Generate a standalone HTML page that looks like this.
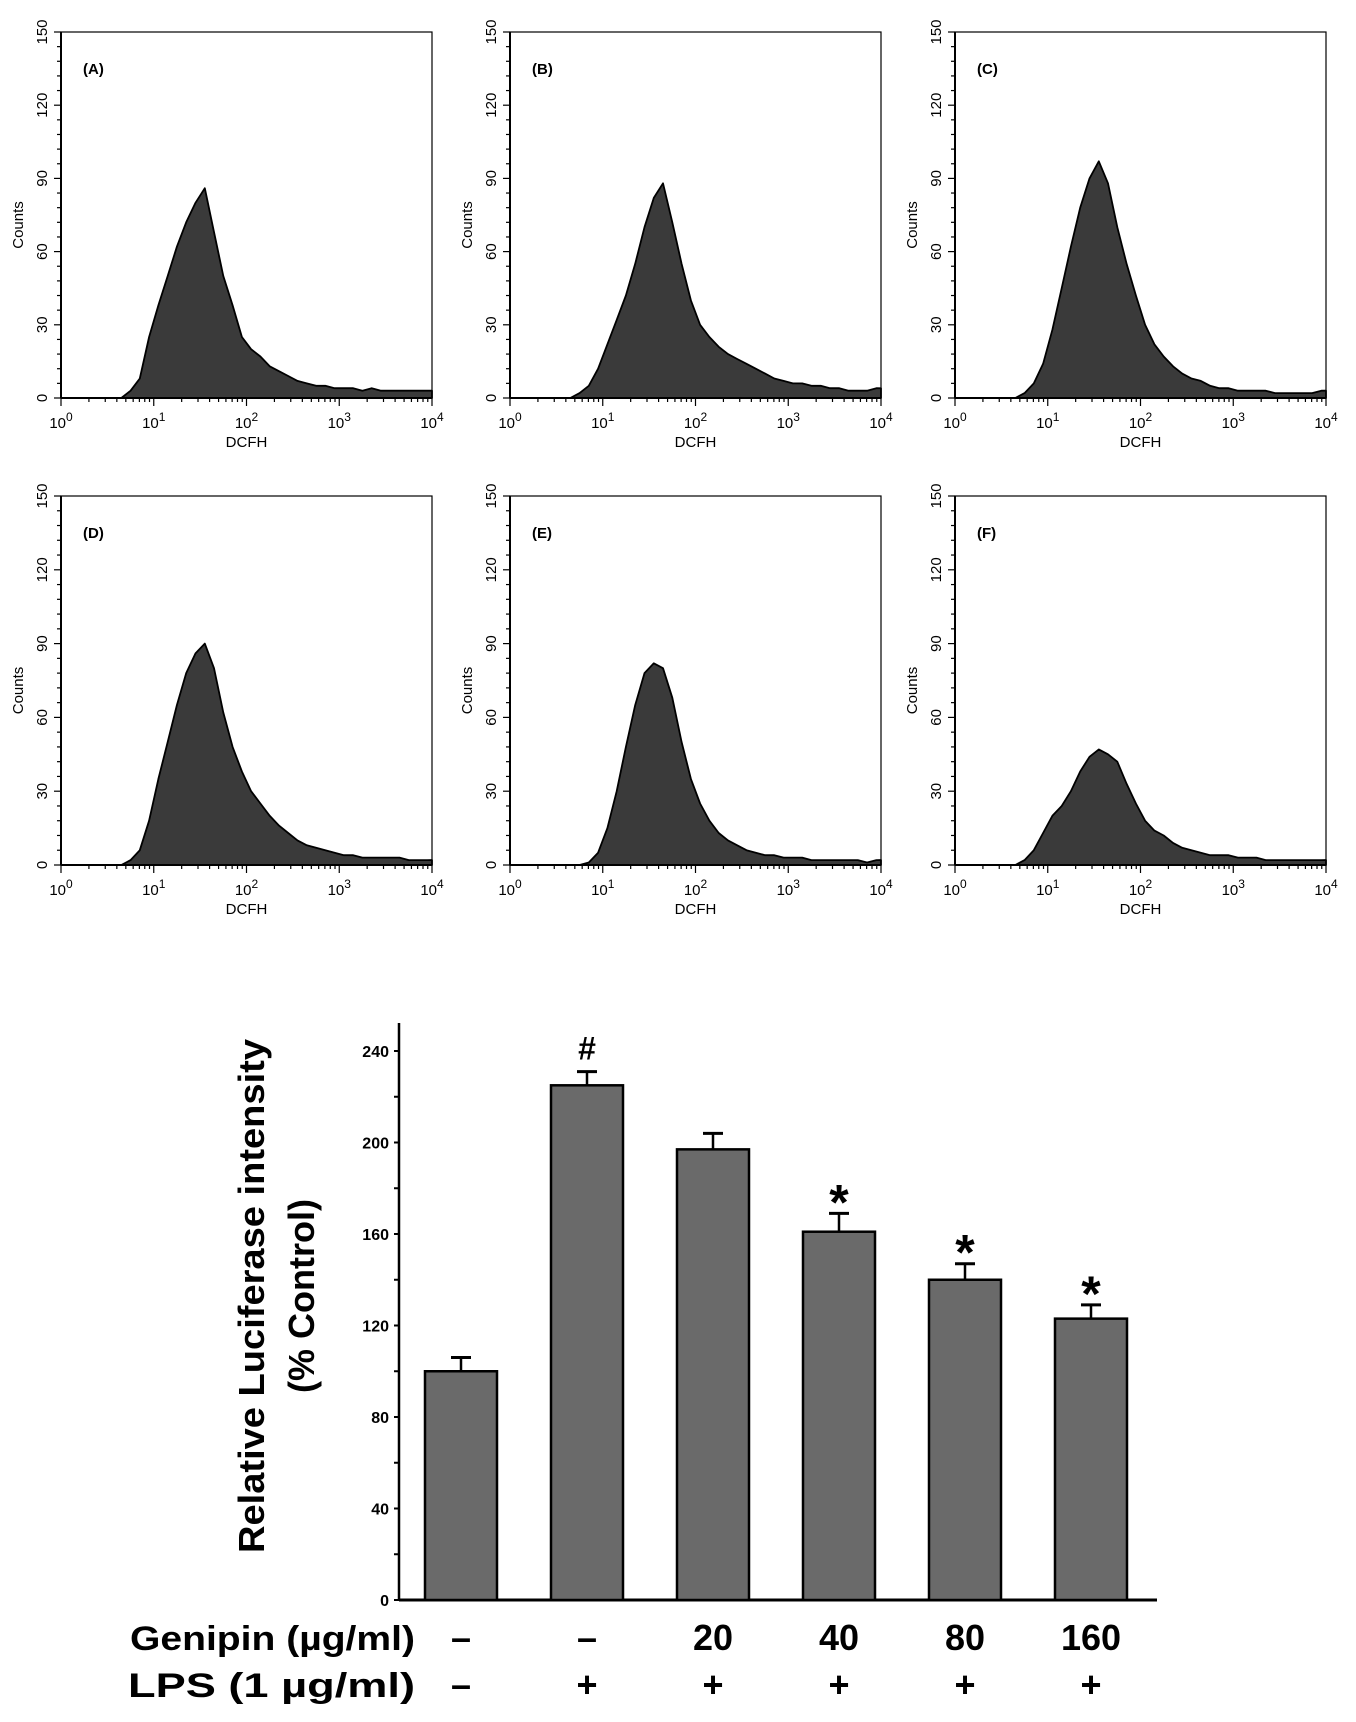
<!DOCTYPE html>
<html><head><meta charset="utf-8"><style>
html,body{margin:0;padding:0;background:#fff;}
svg{display:block;font-family:"Liberation Sans",sans-serif;}
</style></head><body>
<svg id="fig" width="1356" height="1722" viewBox="0 0 1356 1722" xmlns="http://www.w3.org/2000/svg"></svg>
<script>
// ---- histogram data (counts per log10 bin, bin width 0.1 from 10^0 to 10^4) ----
const histLabels = ["(A)","(B)","(C)","(D)","(E)","(F)"];
const histA = [0,0,0,0,0,0,0,3,8,25,38,50,62,72,80,86,68,50,38,25,20,17,13,11,9,7,6,5,5,4,4,4,3,4,3,3,3,3,3,3];
const histB = [0,0,0,0,0,0,0,2,5,12,22,32,42,55,70,82,88,72,55,40,30,25,21,18,16,14,12,10,8,7,6,6,5,5,4,4,3,3,3,4];
const histC = [0,0,0,0,0,0,0,2,6,14,28,45,62,78,90,97,88,70,55,42,30,22,17,13,10,8,7,5,4,4,3,3,3,3,2,2,2,2,2,3];
const histD = [0,0,0,0,0,0,0,2,6,18,35,50,65,78,86,90,80,62,48,38,30,25,20,16,13,10,8,7,6,5,4,4,3,3,3,3,3,2,2,2];
const histE = [0,0,0,0,0,0,0,0,1,5,15,30,48,65,78,82,80,68,50,35,25,18,13,10,8,6,5,4,4,3,3,3,2,2,2,2,2,2,1,2];
const histF = [0,0,0,0,0,0,0,2,6,13,20,24,30,38,44,47,45,42,33,25,18,14,12,9,7,6,5,4,4,4,3,3,3,2,2,2,2,2,2,2];
const histSeries = [histA,histB,histC,histD,histE,histF];
const countTicks = [0,30,60,90,120,150];
const decadeTicks = [0,1,2,3,4];

// ---- bar chart data ----
const barCategories = ["control","LPS","G20","G40","G80","G160"];
const barValues = [100,225,197,161,140,123];
const barErrors = [6,6,7,8,7,6];
const barMarks = ["","#","","*","*","*"];
const genipinLabels = ["\u2013","\u2013","20","40","80","160"];
const lpsLabels = ["\u2013","+","+","+","+","+"];
const barTicks = [0,40,80,120,160,200,240];

const NS="http://www.w3.org/2000/svg";
const svg=document.getElementById('fig');
function mk(tag,attrs,parent,text){const e=document.createElementNS(NS,tag);for(const k in attrs)e.setAttribute(k,attrs[k]);if(text!==undefined)e.textContent=text;(parent||svg).appendChild(e);return e;}

const cols=[61,510,955], rows=[[32,398],[496,865]], W=371;
histSeries.forEach((data,i)=>{
  const x0=cols[i%3], top=rows[Math.floor(i/3)][0], y0=rows[Math.floor(i/3)][1];
  const g=mk('g',{});
  
  
  const xs=d=>x0+d/4*W, ys=c=>y0-c/150*(y0-top);
  let d='M'+xs(0)+','+ys(0);
  data.forEach((v,k)=>{d+=' L'+xs(k*0.1+0.05).toFixed(1)+','+ys(v).toFixed(1);});
  d+=' L'+xs(4)+','+ys(data[data.length-1])+' L'+xs(4)+','+ys(0)+' Z';
  const p=mk('path',{d:d,fill:'#3a3a3a',stroke:'#000','stroke-width':1.8,'stroke-linejoin':'round'},g);
  
  
  const box=mk('rect',{x:x0,y:top,width:W,height:y0-top,fill:'none',stroke:'#000','stroke-width':1.2},g);
  
  
  mk('line',{x1:x0,y1:y0,x2:x0+W,y2:y0,stroke:'#000','stroke-width':2},g);
  mk('line',{x1:x0,y1:top,x2:x0,y2:y0,stroke:'#000','stroke-width':2},g);
  for(let c=0;c<=150;c+=6){const big=c%30===0;mk('line',{x1:x0-(big?7:4),y1:ys(c),x2:x0,y2:ys(c),stroke:'#000','stroke-width':1.2},g);}
  countTicks.forEach(c=>{const t=mk('text',{x:x0-14,y:ys(c),'font-size':15,'text-anchor':'middle',transform:`rotate(-90 ${x0-14} ${ys(c)})`},g,String(c));
    });
  for(let dcd=0;dcd<4;dcd++){for(let m=1;m<=9;m++){const xx=xs(dcd+Math.log10(m));mk('line',{x1:xx,y1:y0,x2:xx,y2:y0+(m===1?8:4),stroke:'#000','stroke-width':1.2},g);}}
  mk('line',{x1:xs(4),y1:y0,x2:xs(4),y2:y0+8,stroke:'#000','stroke-width':1.2},g);
  decadeTicks.forEach(e=>{const t=mk('text',{x:xs(e),y:y0+30,'font-size':15,'text-anchor':'middle'},g);
    
    mk('tspan',{},t,'10');mk('tspan',{dy:-7,'font-size':12},t,String(e));});
  const xt=mk('text',{x:x0+W/2,y:y0+49,'font-size':15,'text-anchor':'middle'},g,'DCFH');
  
  const yt=mk('text',{x:x0-38,y:(top+y0)/2+10,'font-size':15,'text-anchor':'middle',transform:`rotate(-90 ${x0-38} ${(top+y0)/2+10})`},g,'Counts');
  
  const lb=mk('text',{x:x0+22,y:top+42,'font-size':15,'font-weight':'bold'},g,histLabels[i]);
  
});

// ---- bar chart ----
const bx0=399, bx1=1157, by0=1600, byTop=1023, pxU=(1600-1051)/240;
const yb=v=>by0-v*pxU;
const bc=k=>461+k*126;
const bg=mk('g',{});


mk('line',{x1:bx0,y1:byTop,x2:bx0,y2:by0,stroke:'#000','stroke-width':2.5},bg);
mk('line',{x1:bx0,y1:by0,x2:bx1,y2:by0,stroke:'#000','stroke-width':3},bg);
for(let v=0;v<=240;v+=20){mk('line',{x1:bx0-5,y1:yb(v),x2:bx0,y2:yb(v),stroke:'#000','stroke-width':2},bg);}
barTicks.forEach(v=>{const t=mk('text',{x:bx0-10,y:yb(v)+6,'font-size':16,'font-weight':'bold','text-anchor':'end'},bg,String(v));
  });
barValues.forEach((v,k)=>{
  const r=mk('rect',{x:bc(k)-36,y:yb(v),width:72,height:by0-yb(v),fill:'#6a6a6a',stroke:'#000','stroke-width':2.5},bg);
  
  const e=barErrors[k];
  mk('line',{x1:bc(k),y1:yb(v),x2:bc(k),y2:yb(v+e),stroke:'#000','stroke-width':2.5},bg);
  const cap=mk('line',{x1:bc(k)-10,y1:yb(v+e),x2:bc(k)+10,y2:yb(v+e),stroke:'#000','stroke-width':3},bg);
  
  if(barMarks[k]){const s=barMarks[k]==='*';
    const m=mk('text',{x:bc(k),y:yb(v+e)-(s?-6:12),'font-size':s?50:32,'font-weight':'bold','text-anchor':'middle'},bg,barMarks[k]);
    }
  const gl=mk('text',{x:bc(k),y:1650,'font-size':36,'font-weight':'bold','text-anchor':'middle'},bg,genipinLabels[k]);
  
  const ll=mk('text',{x:bc(k),y:1697,'font-size':36,'font-weight':'bold','text-anchor':'middle'},bg,lpsLabels[k]);
  
});
const r1=mk('text',{x:130,y:1650,'font-size':34,'font-weight':'bold',textLength:285,lengthAdjust:'spacingAndGlyphs'},bg,'Genipin (\u00b5g/ml)');

const r2=mk('text',{x:128,y:1697,'font-size':34,'font-weight':'bold',textLength:287,lengthAdjust:'spacingAndGlyphs'},bg,'LPS (1 \u00b5g/ml)');

const t1=mk('text',{x:264,y:1296,'font-size':36,'font-weight':'bold','text-anchor':'middle',textLength:514,lengthAdjust:'spacingAndGlyphs',transform:'rotate(-90 264 1296)'},bg,'Relative Luciferase intensity');

const t2=mk('text',{x:314,y:1296,'font-size':36,'font-weight':'bold','text-anchor':'middle',transform:'rotate(-90 314 1296)'},bg,'(% Control)');

</script>
</body></html>
